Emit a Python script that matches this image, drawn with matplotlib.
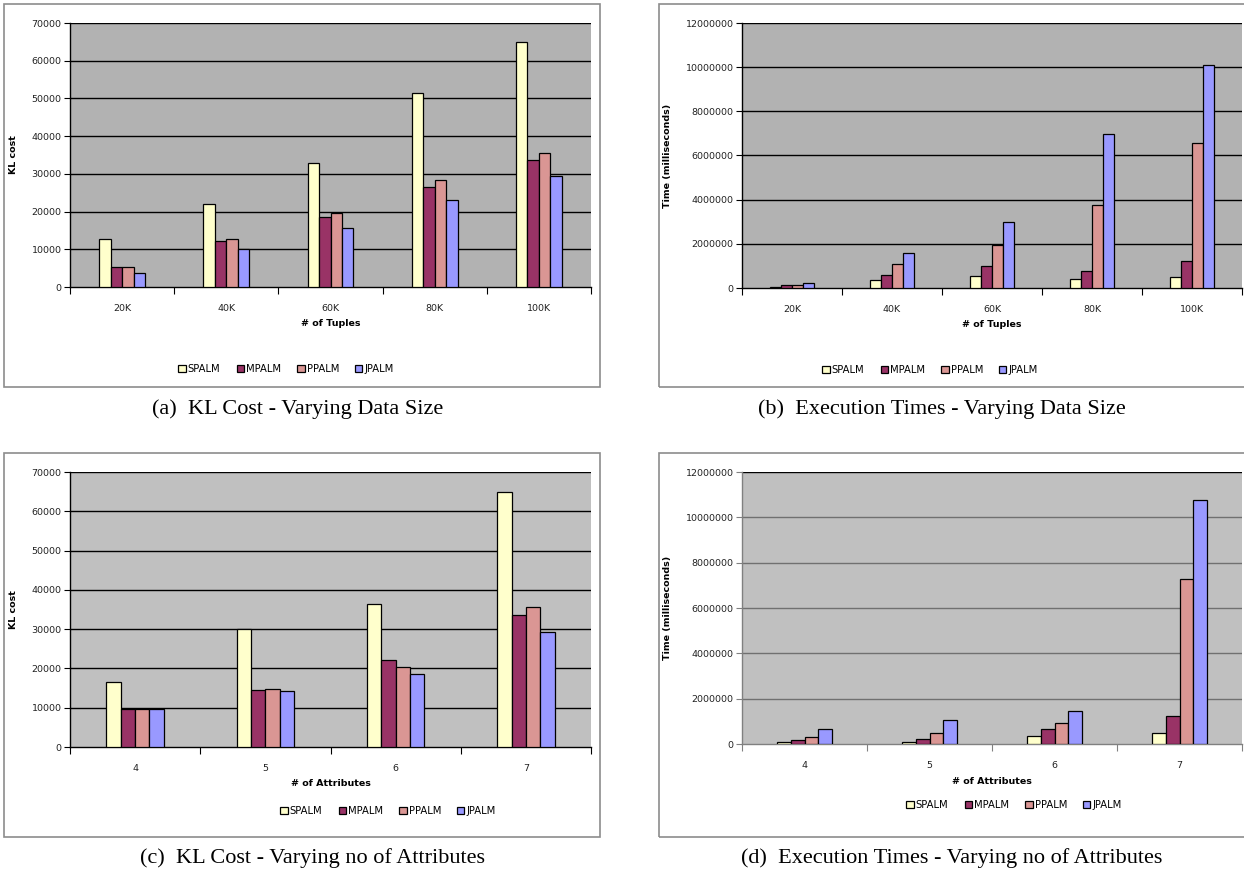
import matplotlib
matplotlib.use("Agg")
import matplotlib.pyplot as plt
from matplotlib.patches import Rectangle, Patch
import numpy as np

W, H = 1244, 872

series = ["SPALM", "MPALM", "PPALM", "JPALM"]
colors = ["#FFFFCC", "#993366", "#DA9694", "#9999FF"]

tuples = ["20K", "40K", "60K", "80K", "100K"]
attributes = ["4", "5", "6", "7"]

# KL cost, varying number of tuples
kl_tup_spalm = [12800, 22000, 32900, 51500, 65000]
kl_tup_mpalm = [5200, 12300, 18500, 26500, 33700]
kl_tup_ppalm = [5200, 12800, 19500, 28400, 35600]
kl_tup_jpalm = [3600, 10200, 15600, 23000, 29300]

# execution time (ms), varying number of tuples
t_tup_spalm = [50000, 350000, 560000, 400000, 520000]
t_tup_mpalm = [130000, 600000, 1000000, 780000, 1200000]
t_tup_ppalm = [150000, 1100000, 1950000, 3750000, 6550000]
t_tup_jpalm = [230000, 1580000, 3000000, 6980000, 10080000]

# KL cost, varying number of attributes
kl_att_spalm = [16600, 30000, 36500, 65000]
kl_att_mpalm = [9800, 14600, 22100, 33600]
kl_att_ppalm = [9700, 14800, 20300, 35600]
kl_att_jpalm = [9600, 14300, 18500, 29300]

# execution time (ms), varying number of attributes
t_att_spalm = [80000, 100000, 350000, 500000]
t_att_mpalm = [180000, 230000, 650000, 1220000]
t_att_ppalm = [320000, 470000, 920000, 7270000]
t_att_jpalm = [680000, 1070000, 1440000, 10780000]

fig = plt.figure(figsize=(W / 100, H / 100), dpi=100)


def fbox(x0, y0, x1, y1):
    return [x0 / W, 1 - y1 / H, (x1 - x0) / W, (y1 - y0) / H]


def frame(x0, y0, x1, y1):
    fig.patches.append(Rectangle((x0 / W, 1 - y1 / H), (x1 - x0) / W, (y1 - y0) / H,
                                 transform=fig.transFigure, fill=False,
                                 edgecolor="#8C8C8C", linewidth=1.2))


def panel(px, cats, data, ymax, step, ylabel, xlabel, bg, gridc, axc,
          ylab_dx, xlab_dy, legend_xy, caption, cap_xy):
    x0, y0, x1, y1 = px
    ax = fig.add_axes(fbox(x0, y0, x1, y1))
    ax.set_facecolor(bg)
    n = len(cats)
    idx = np.arange(n)
    bw = 0.11
    for k, vals in enumerate(data):
        ax.bar(idx + (k - 1.5) * bw, vals, width=bw, color=colors[k],
               edgecolor="black", linewidth=0.9, zorder=3)
    ax.set_xlim(-0.5, n - 0.5)
    ax.set_ylim(0, ymax)
    yt = np.arange(0, ymax + 1, step)
    ax.set_yticks(yt)
    ax.set_yticklabels([f"{int(v)}" for v in yt], fontsize=6.8, color="#222222")
    for v in yt[1:]:
        ax.axhline(v, color=gridc if v < ymax else "black", linewidth=1.0, zorder=1)
    ax.set_xticks(idx)
    ax.set_xticklabels(cats, fontsize=6.8, color="#222222")
    ax.set_xticks(np.arange(-0.5, n), minor=True)
    ax.tick_params(axis="x", which="major", length=0, pad=12)
    ax.tick_params(axis="x", which="minor", length=5, width=0.8, color=axc, direction="out")
    ax.tick_params(axis="y", length=4, width=0.8, color=axc, pad=2, direction="out")
    for s in ["top", "right"]:
        ax.spines[s].set_visible(False)
    ax.spines["left"].set_color(axc)
    ax.spines["bottom"].set_color(axc)
    ax.spines["left"].set_linewidth(1.0)
    ax.spines["bottom"].set_linewidth(1.0)
    ax.set_ylabel(ylabel, fontsize=6.8, fontweight="bold")
    ax.yaxis.set_label_coords(ylab_dx / (x1 - x0), 0.5)
    ax.set_xlabel(xlabel, fontsize=6.8, fontweight="bold")
    ax.xaxis.set_label_coords(0.5, -xlab_dy / (y1 - y0))
    handles = [Patch(facecolor=c, edgecolor="black", linewidth=0.9) for c in colors]
    fig.legend(handles, series, loc="center",
               bbox_to_anchor=(legend_xy[0] / W, 1 - legend_xy[1] / H),
               ncol=4, frameon=False, fontsize=7.2, handlelength=0.75,
               handleheight=0.75, handletextpad=0.2, columnspacing=1.6)
    fig.text(cap_xy[0] / W, 1 - cap_xy[1] / H, caption, ha="center", va="center",
             fontsize=16, family="Liberation Serif")
    return ax


# frames around each chart
frame(4, 4, 600, 387)
frame(659, 4, 1260, 387)
frame(4, 453, 600, 837)
frame(659, 453, 1260, 837)

panel((70, 23, 591, 287), tuples,
      [kl_tup_spalm, kl_tup_mpalm, kl_tup_ppalm, kl_tup_jpalm],
      70000, 10000, "KL cost", "# of Tuples", "#B2B2B2", "black", "black",
      -52, 32, (286, 369), "(a)  KL Cost - Varying Data Size", (298, 409))

panel((742, 23, 1242, 288), tuples,
      [t_tup_spalm, t_tup_mpalm, t_tup_ppalm, t_tup_jpalm],
      12000000, 2000000, "Time (milliseconds)", "# of Tuples", "#B2B2B2", "black", "black",
      -70, 32, (930, 370), "(b)  Execution Times - Varying Data Size", (942, 409))

panel((70, 472, 591, 747), attributes,
      [kl_att_spalm, kl_att_mpalm, kl_att_ppalm, kl_att_jpalm],
      70000, 10000, "KL cost", "# of Attributes", "#C0C0C0", "black", "black",
      -52, 32, (388, 811), "(c)  KL Cost - Varying no of Attributes", (312, 858))

panel((742, 472, 1242, 744), attributes,
      [t_att_spalm, t_att_mpalm, t_att_ppalm, t_att_jpalm],
      12000000, 2000000, "Time (milliseconds)", "# of Attributes", "#C0C0C0", "#707070", "#808080",
      -70, 33, (1014, 805), "(d)  Execution Times - Varying no of Attributes", (952, 858))

fig.savefig("out.png", dpi=100)
